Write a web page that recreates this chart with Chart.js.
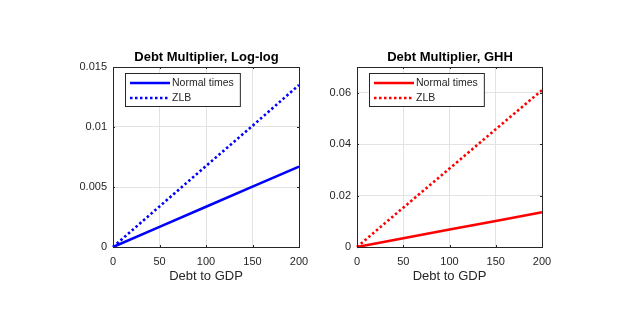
<!DOCTYPE html>
<html>
<head>
<meta charset="utf-8">
<script src="https://cdn.jsdelivr.net/npm/chart.js@4/dist/chart.umd.min.js"></script>
<style>
  html, body { margin: 0; padding: 0; background: #ffffff; }
  #wrap { position: relative; width: 637px; height: 329px; background: #ffffff; overflow: hidden; }
  .pane { position: absolute; top: 0; }
</style>
</head>
<body>
<div id="wrap">
  <div class="pane" style="left:0px;width:318px;height:329px"><canvas id="c1" width="318" height="329"></canvas></div>
  <div class="pane" style="left:318px;width:319px;height:329px"><canvas id="c2" width="319" height="329"></canvas></div>
</div>
<script>
// ---- data ----
const debtToGDP = [0, 50, 100, 150, 200];
const loglogNormal = [0, 0.00168, 0.00335, 0.00503, 0.0067];
const loglogZLB = [0, 0.00338, 0.00675, 0.0101, 0.0135];
const ghhNormal = [0, 0.0034, 0.0068, 0.0101, 0.0135];
const ghhZLB = [0, 0.0153, 0.0305, 0.0458, 0.061];

const xTicks = [0, 50, 100, 150, 200];
const xTickLabels = ['0', '50', '100', '150', '200'];
const loglogYTicks = [0, 0.005, 0.01, 0.015];
const loglogYTickLabels = ['0', '0.005', '0.01', '0.015'];
const ghhYTicks = [0, 0.02, 0.04, 0.06];
const ghhYTickLabels = ['0', '0.02', '0.04', '0.06'];

const seriesNames = ['Normal times', 'ZLB'];
const xTitle = 'Debt to GDP';
const titles = ['Debt Multiplier, Log-log', 'Debt Multiplier, GHH'];

// ---- styling ----
const FONT = "'Liberation Sans', Arial, Helvetica, sans-serif";
const TEXT = '#262626';
const GRID = '#e3e3e3';
Chart.defaults.font.family = FONT;
Chart.defaults.color = TEXT;

function pts(xs, ys) { return xs.map((x, i) => ({ x: x, y: ys[i] })); }

const matlabAxes = {
  id: 'matlabAxes',
  afterDraw(chart, args, opts) {
    const ctx = chart.ctx;
    const ca = chart.chartArea;
    const xs = chart.scales.x, ys = chart.scales.y;
    ctx.save();
    // box
    ctx.strokeStyle = TEXT;
    ctx.lineWidth = 1;
    ctx.strokeRect(ca.left + 0.5, ca.top + 0.5, ca.right - ca.left, ca.bottom - ca.top);
    // inward ticks
    const tl = 2;
    ctx.beginPath();
    xs.ticks.forEach(t => {
      const px = Math.round(xs.getPixelForValue(t.value)) + 0.5;
      ctx.moveTo(px, ca.bottom); ctx.lineTo(px, ca.bottom - tl);
      ctx.moveTo(px, ca.top); ctx.lineTo(px, ca.top + tl);
    });
    ys.ticks.forEach(t => {
      const py = Math.round(ys.getPixelForValue(t.value)) + 0.5;
      ctx.moveTo(ca.left, py); ctx.lineTo(ca.left + tl, py);
      ctx.moveTo(ca.right, py); ctx.lineTo(ca.right - tl, py);
    });
    ctx.stroke();

    // title
    ctx.fillStyle = '#000000';
    ctx.font = 'bold 13px ' + FONT;
    ctx.textAlign = 'center';
    ctx.textBaseline = 'alphabetic';
    ctx.fillText(opts.title, (ca.left + ca.right) / 2 + 0.5, ca.top - 6);

    // legend
    ctx.font = '10.5px ' + FONT;
    const x0 = ca.left + 12, y0 = ca.top + 6;
    let tw = 0;
    chart.data.datasets.forEach(d => { tw = Math.max(tw, ctx.measureText(d.label).width); });
    const w = 47 + tw + 6, h = 33;
    ctx.fillStyle = '#ffffff';
    ctx.fillRect(x0, y0, w, h);
    ctx.strokeStyle = TEXT;
    ctx.lineWidth = 1;
    ctx.strokeRect(x0 + 0.5, y0 + 0.5, w, h);
    chart.data.datasets.forEach((d, i) => {
      const yy = y0 + 10 + i * 15;
      ctx.strokeStyle = d.borderColor;
      ctx.lineWidth = d.borderWidth;
      ctx.setLineDash(d.borderDash || []);
      ctx.lineCap = 'butt';
      ctx.beginPath();
      ctx.moveTo(x0 + 5, yy); ctx.lineTo(x0 + 45, yy);
      ctx.stroke();
      ctx.setLineDash([]);
      ctx.fillStyle = TEXT;
      ctx.textAlign = 'left';
      ctx.textBaseline = 'middle';
      ctx.fillText(d.label, x0 + 47, yy + 0.5);
    });
    ctx.restore();
  }
};

function makeChart(id, color, normal, zlb, yTicks, yLabels, yMax, yAxisWidth, padRight, title) {
  return new Chart(document.getElementById(id), {
    type: 'line',
    data: {
      datasets: [
        { label: seriesNames[0], data: pts(debtToGDP, normal), borderColor: color, borderWidth: 2.6,
          pointRadius: 0, tension: 0, fill: false, clip: false },
        { label: seriesNames[1], data: pts(debtToGDP, zlb), borderColor: color, borderWidth: 2.6,
          borderDash: [2.5, 2.5], pointRadius: 0, tension: 0, fill: false, clip: false }
      ]
    },
    options: {
      responsive: false,
      animation: false,
      devicePixelRatio: 1,
      layout: { padding: { top: 67, right: padRight, bottom: 45, left: 0 } },
      plugins: {
        legend: { display: false },
        title: { display: false },
        tooltip: { enabled: false },
        matlabAxes: { title: title }
      },
      scales: {
        x: {
          type: 'linear', min: 0, max: 200,
          afterBuildTicks: s => { s.ticks = xTicks.map(v => ({ value: v })); },
          afterFit: s => { s.height = 37; },
          ticks: { font: { size: 11 }, color: TEXT, padding: 8, maxRotation: 0,
                   callback: (v, i) => xTickLabels[i] },
          grid: { color: GRID, drawTicks: false },
          border: { display: false },
          title: { display: true, text: xTitle, color: TEXT, font: { size: 13 }, padding: 0 }
        },
        y: {
          type: 'linear', min: 0, max: yMax,
          afterBuildTicks: s => { s.ticks = yTicks.map(v => ({ value: v })); },
          afterFit: s => { s.width = yAxisWidth; },
          ticks: { font: { size: 11 }, color: TEXT, padding: 6,
                   callback: (v, i) => yLabels[i] },
          grid: { color: GRID, drawTicks: false },
          border: { display: false }
        }
      }
    },
    plugins: [matlabAxes]
  });
}

makeChart('c1', '#0000ff', loglogNormal, loglogZLB, loglogYTicks, loglogYTickLabels, 0.015, 113, 19, titles[0]);
makeChart('c2', '#ff0000', ghhNormal, ghhZLB, ghhYTicks, ghhYTickLabels, 0.07, 39, 95, titles[1]);
</script>
</body>
</html>
